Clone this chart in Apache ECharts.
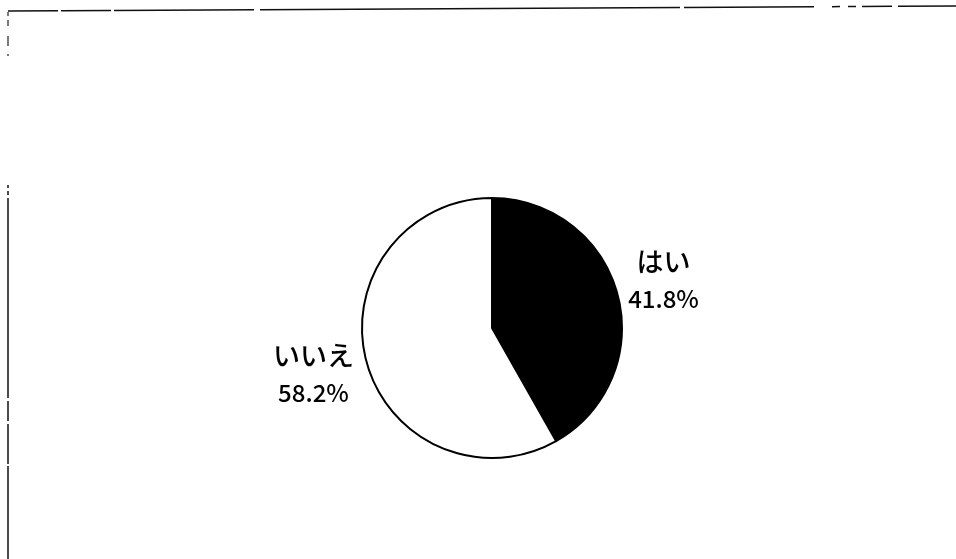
<!DOCTYPE html>
<html>
<head>
<meta charset="utf-8">
<script src="https://cdn.jsdelivr.net/npm/echarts@6/dist/echarts.min.js"></script>
<style>
  html, body { margin: 0; padding: 0; background: #fff; }
  #chart { width: 956px; height: 559px; }
</style>
</head>
<body>
<div id="chart"></div>
<script>
// Answer categories and their shares (%)
const categories = ['はい', 'いいえ'];
const shares = [41.8, 58.2];
const sliceColors = ['#000000', '#ffffff'];

const chart = echarts.init(document.getElementById('chart'), null, { renderer: 'canvas' });

const labelFont = '"Noto Sans CJK JP", "Noto Sans", sans-serif';

const option = {
  backgroundColor: '#ffffff',
  animation: false,
  graphic: [
    // worn frame edges along the top and left
    {
      type: 'polyline',
      shape: { points: [[8, 11], [956, 6]] },
      style: { stroke: '#111', lineWidth: 1.5, lineDash: [50, 3, 50, 3, 140, 6, 420, 4, 130, 18, 8, 8, 8, 6, 30, 6, 60, 8, 200] }
    },
    {
      type: 'polyline',
      shape: { points: [[8, 12], [8, 60]] },
      style: { stroke: '#222', lineWidth: 1.2, lineDash: [4, 4, 6, 10, 10, 8, 2, 6] }
    },
    {
      type: 'polyline',
      shape: { points: [[8, 185], [8, 559]] },
      style: { stroke: '#111', lineWidth: 1.5, lineDash: [3, 3, 4, 3, 200, 3, 20, 3, 40, 2, 300] }
    }
  ],
  series: [{
    type: 'pie',
    center: [492, 328],
    radius: 130,
    startAngle: 90,
    clockwise: true,
    percentPrecision: 1,
    itemStyle: { borderColor: '#000', borderWidth: 2 },
    label: {
      show: true,
      position: 'outside',
      formatter: '{n|{b}}\n{p|{d}%}',
      color: '#000',
      rich: {
        n: { fontFamily: labelFont, fontSize: 27, fontWeight: 500, lineHeight: 37, color: '#000', align: 'center' },
        p: { fontFamily: labelFont, fontSize: 24, fontWeight: 500, lineHeight: 37, color: '#000', align: 'center' }
      }
    },
    labelLine: { show: false, length: 6, length2: 6 },
    labelLayout: function (p) {
      return p.dataIndex === 0
        ? { dx: 29, dy: -13, align: 'center' }
        : { dx: -36, dy: 12, align: 'center' };
    },
    data: categories.map((name, i) => ({
      name: name,
      value: shares[i],
      itemStyle: { color: sliceColors[i] }
    }))
  }]
};

chart.setOption(option);
</script>
</body>
</html>
